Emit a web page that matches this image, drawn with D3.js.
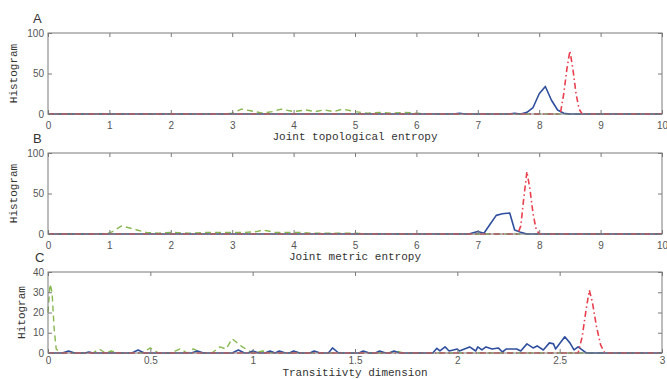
<!DOCTYPE html>
<html>
<head>
<meta charset="utf-8">
<script src="https://cdn.jsdelivr.net/npm/d3@7"></script>
<style>
  body { margin: 0; background: #fff; }
  svg { display: block; }
  .tick text { font-family: "Liberation Sans", Arial, sans-serif; font-size: 10px; fill: #555; }
  .lbl { font-family: "Liberation Mono", "Courier New", monospace; font-size: 11px; fill: #333; }
  .letter { font-family: "Liberation Sans", Arial, sans-serif; font-size: 13px; fill: #333; }
</style>
</head>
<body>
<script>
// ---- Panel A: joint topological entropy ----
const aBlueX  = [0, 6.6, 6.7, 6.8, 7.5, 7.6, 7.7, 7.8, 7.9, 8.0, 8.1, 8.2, 8.3, 8.4, 8.5, 10];
const aBlueY  = [0, 0,   1,   0,   0,   1,   0,   2,   8,   25,  34,  17,  5,   1,   0,   0];
const aRedX   = [0, 8.3, 8.35, 8.4, 8.45, 8.5, 8.55, 8.6, 8.65, 8.7, 10];
const aRedY   = [0, 0,   3,    25,  55,   78,  55,   25,  6,    0,   0];
const aGreenX = [0, 2.9, 3.0, 3.15, 3.3, 3.5, 3.65, 3.8, 4.0, 4.2, 4.35, 4.5, 4.65, 4.8, 5.0, 5.2, 5.4, 5.6, 5.8, 6.0, 6.2, 10];
const aGreenY = [0, 0,   1,   6,    4,   1,   3,    6,   3,   5,   3,    5,   3,    6,   3,   1,   2,   1,   2,   1,   0,   0];

// ---- Panel B: joint metric entropy ----
const bBlueX  = [0, 6.85, 7.0, 7.1, 7.2, 7.3, 7.4, 7.52, 7.6, 7.7, 7.8, 10];
const bBlueY  = [0, 0,    3,   1,   12,  23,  25,  26,   5,   2,   0,   0];
const bRedX   = [0, 7.65, 7.7, 7.75, 7.8, 7.85, 7.9, 7.95, 8.0, 10];
const bRedY   = [0, 0,    10,  45,   77,  55,   25,  6,    0,   0];
const bGreenX = [0, 0.95, 1.05, 1.2, 1.45, 1.6, 1.8, 2.0, 2.3, 2.6, 2.8, 3.0, 3.2, 3.4, 3.5, 3.7, 3.9, 4.1, 4.3, 4.6, 5.0, 5.3, 10];
const bGreenY = [0, 0,    3,    10,  5,    2,   1,   2,   1,   2,   2,   2,   2,   3,   5,   2,   2,   2,   1,   1,   1,   0,   0];

// ---- Panel C: transitivity dimension ----
const cBlueX  = [0, 0.07, 0.1, 0.13, 0.18, 0.2, 0.22, 0.41, 0.44, 0.47, 0.7, 0.73, 0.76, 0.9, 0.93, 0.96, 0.98, 1.0, 1.03, 1.06, 1.085, 1.11, 1.13, 1.16, 1.18, 1.2, 1.23, 1.28, 1.3, 1.33, 1.37, 1.39, 1.42, 1.52, 1.54, 1.57, 1.6, 1.62, 1.65, 1.67, 1.69, 1.72,
                 1.88, 1.90, 1.915, 1.94, 1.96, 2.0, 2.01, 2.06, 2.09, 2.1, 2.12, 2.14, 2.17, 2.2, 2.22, 2.24, 2.29, 2.31, 2.34, 2.37, 2.39, 2.42, 2.45, 2.47, 2.48, 2.525, 2.55, 2.57, 2.59, 2.61, 2.63, 3];
const cBlueY  = [0, 0,    1,   0,    0,    0.5, 0,    0,    1.5,  0,    0,   1,    0,    0,   1.5,  0,    0,    1,   0,    0,    1,     0,    1,    0,    0,    1,   0,    0,    1,   0,    0,    2.5,  0,    0,    1,    0,    0,   1,    0,    0,    1,    0,
                 0,    2.3,  1,     3,    1,    2,   1,    3,    1,    3,   1.5,  3,    2,    2.5, 0.5,  2,    2,    1,    4.5,  2.5,  3.5,  1.5,  5,    4.5,  2,    8,     5,    1.5,  3,    1.5,  0,    0];
const cRedX   = [0, 2.59, 2.61, 2.63, 2.645, 2.66, 2.68, 2.70, 2.72, 3];
const cRedY   = [0, 0,    8,    22,   31,    25,   13,   4,    0,    0];
const cGreenX = [0, 0.01, 0.02, 0.03, 0.04, 0.06, 0.22, 0.25, 0.28, 0.31, 0.34, 0.46, 0.5, 0.54, 0.6, 0.645, 0.68, 0.71, 0.75, 0.8, 0.84, 0.87, 0.9, 0.95, 1.0, 1.05, 1.1, 1.66, 1.7, 1.74, 3];
const cGreenY = [20, 34,  30,   12,   2,    0,    0,    2,    0,    1,    0,    0,    2.5, 0,    0,   2,     0,    2,    0,    0,   3,    2,    7,   3,    0,   1,    0,   0,    1,   0,    0];

// ---- Axis settings per panel ----
const panels = [
  { letter: "A", label: "Joint topological entropy", ylabel: "Histogram",
    xDomain: [0, 10], xTicks: d3.range(0, 11, 1), yDomain: [0, 100], yTicks: [0, 50, 100],
    series: [[aGreenX, aGreenY, "green"], [aBlueX, aBlueY, "blue"], [aRedX, aRedY, "red"]] },
  { letter: "B", label: "Joint metric entropy", ylabel: "Histogram",
    xDomain: [0, 10], xTicks: d3.range(0, 11, 1), yDomain: [0, 100], yTicks: [0, 50, 100],
    series: [[bGreenX, bGreenY, "green"], [bBlueX, bBlueY, "blue"], [bRedX, bRedY, "red"]] },
  { letter: "C", label: "Transitiivty dimension", ylabel: "Hitogram",
    xDomain: [0, 3], xTicks: [0, 0.5, 1, 1.5, 2, 2.5, 3], yDomain: [0, 40], yTicks: [0, 10, 20, 30, 40],
    series: [[cGreenX, cGreenY, "green"], [cBlueX, cBlueY, "blue"], [cRedX, cRedY, "red"]] }
];

const styles = {
  blue:  { stroke: "#2f4f9e", dash: null,            width: 1.6 },
  red:   { stroke: "#e8404e", dash: "6,3,1.5,3",     width: 1.6 },
  green: { stroke: "#86b84e", dash: "6,4",           width: 1.4 }
};

const W = 667, H = 379;
const left = 48, right = 662;
const tops = [33, 153, 272], height = 81;

const svg = d3.select("body").append("svg").attr("width", W).attr("height", H);

panels.forEach((p, i) => {
  const top = tops[i], bottom = top + height;
  const last = i === 2;
  const x = d3.scaleLinear().domain(p.xDomain).range([left, right]);
  const y = d3.scaleLinear().domain(p.yDomain).range([bottom, top]);
  const g = svg.append("g");

  // data lines
  const line = d3.line().x(d => x(d[0])).y(d => y(d[1]));
  p.series.forEach(([xs, ys, key]) => {
    const st = styles[key];
    g.append("path")
      .datum(xs.map((v, k) => [v, ys[k]]))
      .attr("d", line)
      .attr("fill", "none")
      .attr("stroke", st.stroke)
      .attr("stroke-width", st.width)
      .attr("stroke-dasharray", st.dash)
      .attr("stroke-linejoin", "round");
  });

  // frame
  g.append("rect").attr("x", left).attr("y", top).attr("width", right - left).attr("height", height)
    .attr("fill", "none").attr("stroke", "#7a7a7a").attr("stroke-width", 1);

  const fmt = v => String(v);
  // bottom axis with inward ticks
  const xb = g.append("g").attr("transform", `translate(0,${bottom})`)
    .call(d3.axisBottom(x).tickValues(p.xTicks).tickFormat(fmt).tickSizeInner(-4).tickSizeOuter(0).tickPadding(last ? 4 : 8));
  // top axis ticks
  const xt = g.append("g").attr("transform", `translate(0,${top})`)
    .call(d3.axisTop(x).tickValues(p.xTicks).tickFormat("").tickSizeInner(-4).tickSizeOuter(0));
  // left axis
  const yl = g.append("g").attr("transform", `translate(${left},0)`)
    .call(d3.axisLeft(y).tickValues(p.yTicks).tickFormat(fmt).tickSizeInner(-4).tickSizeOuter(0).tickPadding(4));
  // right axis ticks
  const yr = g.append("g").attr("transform", `translate(${right},0)`)
    .call(d3.axisRight(y).tickValues(p.yTicks).tickFormat("").tickSizeInner(-4).tickSizeOuter(0));
  [xb, xt, yl, yr].forEach(a => {
    a.select(".domain").remove();
    a.selectAll(".tick line").attr("stroke", "#7a7a7a");
  });

  // axis labels
  g.append("text").attr("class", "lbl").attr("x", (left + right) / 2).attr("y", bottom + (last ? 23 : 26))
    .attr("text-anchor", "middle").text(p.label);
  g.append("text").attr("class", "lbl")
    .attr("transform", `translate(${last ? 25 : 17},${(top + bottom) / 2}) rotate(-90)`)
    .attr("text-anchor", "middle").text(p.ylabel);
  g.append("text").attr("class", "letter").attr("x", last ? 35 : 33).attr("y", top - 10).text(p.letter);
});
</script>
</body>
</html>
